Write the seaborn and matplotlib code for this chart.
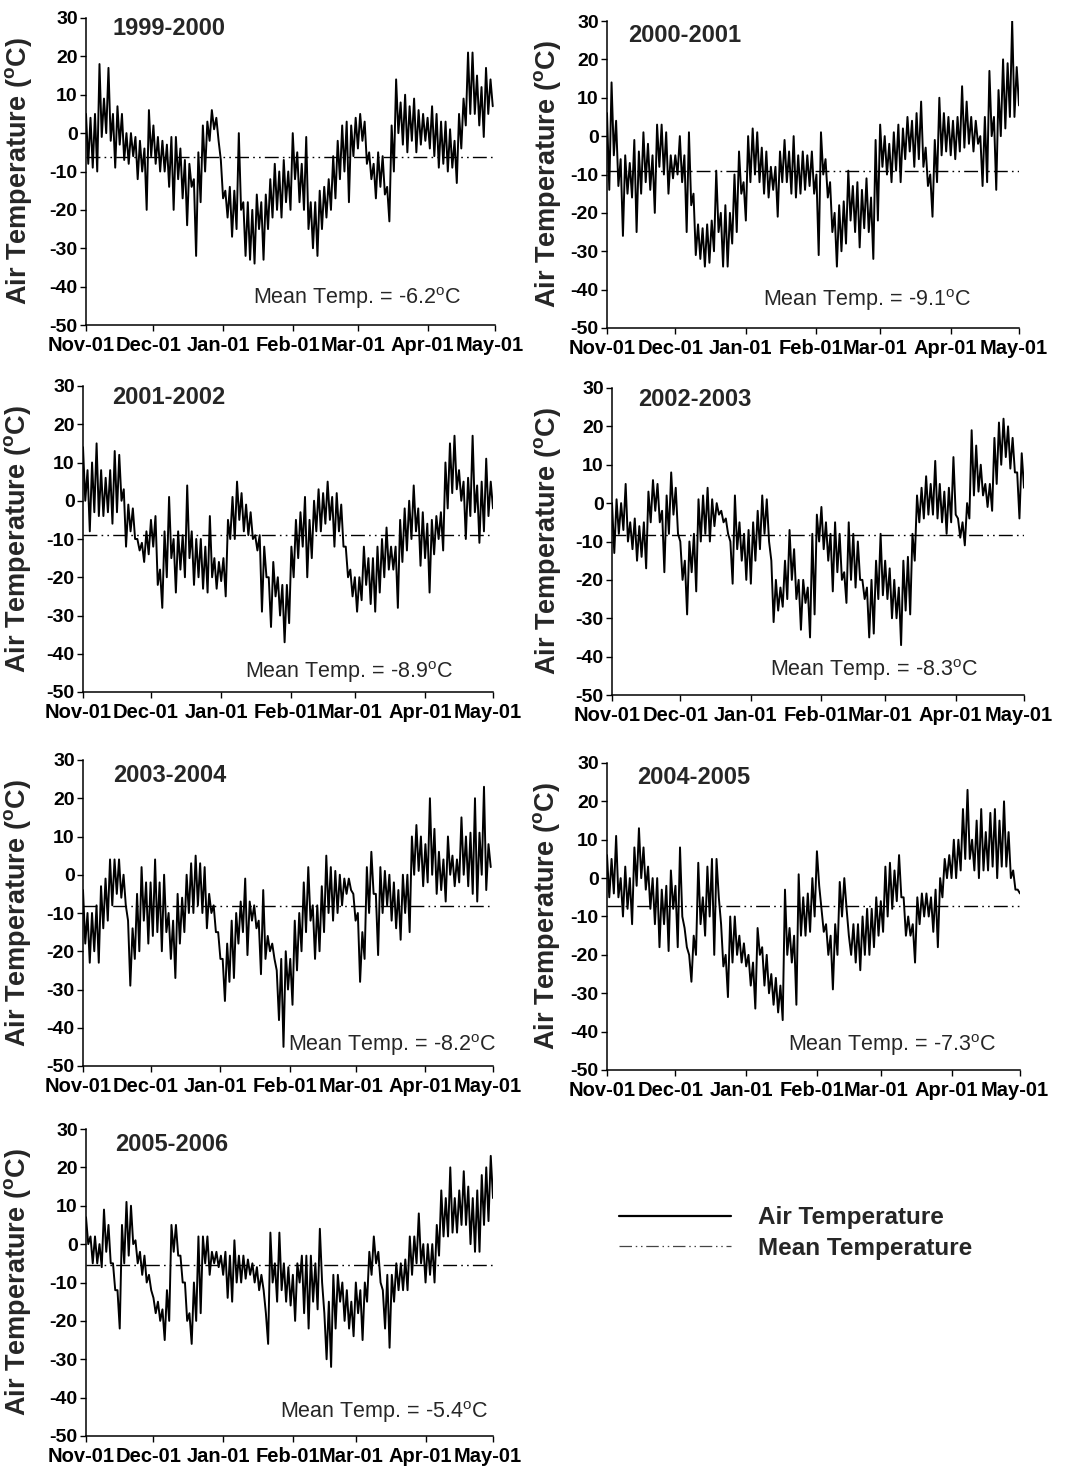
import numpy as np
import pandas as pd
import matplotlib
matplotlib.use("Agg")
import matplotlib.pyplot as plt
import matplotlib.dates as mdates
from matplotlib.lines import Line2D
from matplotlib.transforms import ScaledTranslation
import seaborn as sns

# ---------------------------------------------------------------- data
seasons = ["1999-2000", "2000-2001", "2001-2002", "2002-2003",
           "2003-2004", "2004-2005", "2005-2006"]
mean_temps = [-6.2, -9.1, -8.9, -8.3, -8.2, -7.3, -5.4]

# Air temperature (deg C): upper and lower readings for every two-day step,
# starting on 1 November of each winter.
hi_1999 = [5, 4, 5, 18, 9, 17, 5, 7, 5, 0,
           0, -1, -2, -4, 6, 2, -1, -2, -3, -1,
           -1, -4, -7, -8, -12, -5, 2, 3, 6, 4,
           -7, -15, -14, -15, 0, -18, -18, -20, -16, -18,
           -16, -12, -8, -10, -7, -10, 0, -5, -8, -1,
           -18, -18, -15, -14, -12, -6, -2, 2, 3, 2,
           4, 5, 3, -5, -8, -5, -6, -14, 2, 14,
           8, 10, 7, 9, 6, 5, 4, 7, 5, 3,
           3, 1, -2, 5, 9, 21, 21, 15, 12, 17,
           14]
lo_1999 = [-8, -9, -10, -1, 0, -2, -9, -3, -7, -8,
           -6, -12, -10, -20, -6, -8, -10, -10, -14, -20,
           -12, -17, -24, -14, -32, -18, -10, -2, 1, -2,
           -17, -22, -27, -25, -20, -32, -33, -34, -25, -33,
           -25, -22, -20, -22, -18, -20, -12, -18, -20, -25,
           -30, -32, -25, -22, -20, -17, -12, -10, -18, -6,
           -4, -2, -8, -12, -17, -14, -16, -23, -10, 0,
           -3, -5, -2, -5, -3, -2, -4, -6, -9, -8,
           -10, -9, -13, -4, 2, 5, 5, 2, -1, 5,
           7]

hi_2000 = [6, 14, 4, -6, -5, -7, -1, -4, 1, -2,
           -5, 3, 3, 1, -5, -5, 0, -5, 1, -15,
           -23, -24, -23, -22, -9, -20, -18, -20, -10, -4,
           -12, 0, 2, 1, -3, -4, -8, -8, -4, -1,
           -4, 0, -5, -4, -5, -4, -10, 1, -6, -12,
           -20, -18, -17, -9, -13, -12, -14, -11, -16, -1,
           3, 0, -2, 1, 3, 2, 5, 4, 6, 9,
           -3, -10, -1, 10, 6, 5, 4, 5, 13, 9,
           5, 4, 0, 5, 17, 5, 12, 20, 19, 30,
           18]
lo_2000 = [-14, -5, -13, -26, -15, -16, -25, -15, -12, -14,
           -20, -8, -10, -15, -11, -10, -12, -25, -18, -31,
           -32, -34, -33, -30, -25, -34, -34, -28, -25, -15,
           -22, -12, -10, -12, -15, -16, -14, -21, -12, -12,
           -15, -16, -15, -14, -13, -15, -31, -10, -16, -25,
           -34, -30, -28, -22, -25, -29, -24, -25, -32, -22,
           -8, -10, -12, -9, -12, -6, -4, -8, -6, -8,
           -13, -21, -12, -5, -4, -5, -6, -4, -3, -2,
           -4, -2, -13, -12, 0, -14, 0, 2, 5, 5,
           8]

hi_2001 = [14, 8, 10, 15, 8, 6, 8, 13, 12, 3,
           -1, -2, -10, -11, -8, -5, -4, -18, -8, 1,
           -10, -8, -9, 4, -8, -10, -10, -12, -4, -15,
           -16, -15, -5, 1, 5, 2, -1, -3, -9, -9,
           -12, -20, -16, -20, -22, -22, -12, -5, -3, 1,
           -5, 0, 3, 2, 5, 1, 2, -1, -12, -18,
           -20, -20, -12, -15, -15, -12, -10, -7, -12, -12,
           -5, -2, 0, 4, -2, -3, -6, -5, -4, -3,
           10, 15, 17, 8, 5, 6, 17, 4, 5, 11,
           5]
lo_2001 = [0, -8, -3, -4, -4, -3, -6, -3, 0, -12,
           -8, -10, -13, -16, -14, -12, -22, -28, -20, -15,
           -24, -18, -20, -15, -22, -20, -23, -24, -20, -23,
           -21, -25, -10, -10, -5, -8, -9, -10, -13, -29,
           -20, -33, -25, -30, -37, -32, -20, -15, -12, -20,
           -15, -8, -8, -6, -5, -12, -8, -12, -20, -25,
           -29, -26, -22, -27, -29, -24, -20, -18, -18, -28,
           -16, -13, -10, -8, -17, -15, -24, -14, -10, -13,
           -2, 2, 3, 0, -10, -4, -3, -11, -8, -4,
           -2]

hi_2002 = [0, 1, 0, 5, -5, -4, -6, -5, 3, 6,
           5, -2, 2, 8, 4, -10, -15, -10, -8, 1,
           2, 4, 1, 0, -2, -4, -10, 2, -5, -8,
           -7, -5, -2, 2, 1, -15, -20, -22, -15, -7,
           -12, -20, -20, -22, -8, -3, -1, -5, -8, -5,
           -8, -18, -5, -8, -10, -20, -22, -20, -15, -8,
           -15, -17, -20, -22, -15, -14, -8, 2, 4, 7,
           5, 11, 5, 3, 4, 12, -4, -5, 0, 19,
           15, 10, 5, 5, 17, 21, 22, 20, 17, 8,
           13]
lo_2002 = [-13, -8, -7, -10, -12, -15, -14, -17, -5, -2,
           -5, -18, -8, -3, -8, -20, -29, -18, -23, -10,
           -8, -10, -6, -3, -5, -8, -21, -12, -15, -20,
           -21, -15, -12, -8, -10, -31, -28, -27, -25, -20,
           -25, -33, -26, -35, -29, -10, -12, -15, -23, -18,
           -20, -26, -20, -22, -20, -25, -35, -34, -25, -24,
           -25, -30, -30, -37, -28, -29, -15, -5, -4, -3,
           -3, -4, -5, -8, -5, -3, -9, -11, -4, 2,
           3, 2, -1, -2, 5, 10, 12, 9, 8, -4,
           4]

hi_2003 = [-4, -10, -10, -8, -3, -1, 4, 4, 4, 0,
           -12, -14, -5, 2, -2, -2, 4, -2, 0, -10,
           -12, -5, -6, 0, 3, 5, 3, 2, -5, -8,
           -15, -22, -18, -12, -10, -7, -1, -7, -8, -12,
           -4, -16, -18, -25, -22, -20, -22, -12, -10, -2,
           2, -8, -8, -3, 5, 2, 1, 0, -1, -1,
           -5, -10, -15, 2, 6, -5, 2, 1, 0, -2,
           -4, 0, 0, 10, 13, 10, 8, 20, 12, 6,
           4, 10, 5, 4, 15, 10, 11, 20, 11, 23,
           8]
lo_2003 = [-18, -23, -20, -23, -14, -12, -8, -5, -6, -8,
           -29, -22, -20, -12, -18, -16, -15, -20, -15, -22,
           -27, -18, -15, -10, -10, -8, -10, -14, -10, -15,
           -22, -33, -28, -27, -18, -15, -21, -12, -14, -26,
           -22, -20, -22, -38, -45, -30, -34, -25, -20, -15,
           -12, -22, -20, -15, -10, -12, -10, -8, -5, -4,
           -12, -28, -22, -10, -5, -21, -10, -8, -12, -14,
           -17, -10, -15, 0, 1, -3, -2, 0, -5, -4,
           -7, 0, -3, -2, 0, -3, -5, -7, 0, -4,
           2]

hi_2004 = [6, 5, 11, 0, 3, 0, 8, 13, 8, 3,
           0, 0, -3, -2, 2, -2, 8, -13, -20, -15,
           4, -5, 3, 5, 5, -12, -20, -10, -10, -15,
           -17, -20, -22, -13, -18, -20, -25, -26, -28, -3,
           -13, -15, 1, -5, -4, 0, 7, -8, -12, -15,
           -12, -1, 0, -15, -12, -12, -10, -8, -8, -5,
           -6, 3, 4, 2, 6, -5, -10, -12, -5, -4,
           -4, -5, -3, 0, 5, 6, 10, 10, 18, 23,
           10, 15, 18, 12, 17, 18, 15, 20, 12, 2,
           -3]
lo_2004 = [-5, -4, -5, -10, -8, -12, -2, 0, -3, -8,
           -12, -18, -12, -19, -8, -18, -10, -18, -27, -20,
           -12, -15, -10, -20, -5, -23, -31, -22, -20, -22,
           -23, -28, -34, -20, -28, -30, -33, -35, -37, -20,
           -22, -33, -15, -15, -14, -10, -2, -14, -20, -29,
           -20, -10, -8, -20, -22, -24, -20, -20, -18, -15,
           -14, -10, -8, -6, -5, -15, -15, -22, -12, -10,
           -10, -14, -18, -5, 0, 0, 0, 2, 5, 5,
           2, 0, 2, 2, 3, 0, 3, 3, 0, -3,
           -4]

hi_2005 = [7, 2, 2, 0, 9, 5, -5, -12, 5, 11,
           10, 1, -2, -3, -8, -14, -15, -17, -12, 5,
           5, -3, -10, -18, -10, 2, 2, 2, -2, -2,
           -3, -2, -3, 1, -3, -3, -4, -5, -6, -8,
           -18, 3, -5, 3, -5, -6, -8, -5, -3, -3,
           -3, -5, 4, -18, -15, -8, -8, -10, -12, -15,
           -10, -12, -10, -2, 2, -2, -12, -8, -8, -5,
           -5, -4, 2, 2, 8, 0, 0, 0, 5, 14,
           12, 20, 12, 14, 19, 15, 12, 14, 18, 20,
           23]
lo_2005 = [0, -5, -5, -6, -2, -5, -12, -22, -5, -3,
           0, -5, -8, -10, -12, -18, -20, -25, -20, -2,
           -3, -10, -20, -26, -20, -18, -5, -8, -5, -6,
           -8, -14, -15, -10, -10, -9, -8, -10, -12, -12,
           -26, -10, -15, -12, -15, -16, -20, -10, -18, -22,
           -15, -17, -10, -30, -32, -22, -15, -20, -22, -24,
           -18, -25, -15, -8, -5, -10, -22, -27, -15, -12,
           -12, -12, -8, -5, -5, -10, -8, -10, -3, 2,
           2, 3, 3, 5, 5, 0, -2, -2, 5, 6,
           12]

highs = [hi_1999, hi_2000, hi_2001, hi_2002, hi_2003, hi_2004, hi_2005]
lows = [lo_1999, lo_2000, lo_2001, lo_2002, lo_2003, lo_2004, lo_2005]

# ---------------------------------------------------------------- style
sns.set_theme(style="ticks")
plt.rcParams["font.family"] = ["Liberation Sans", "DejaVu Sans"]
plt.rcParams.update({
    "mathtext.fontset": "custom",
    "mathtext.rm": "Liberation Sans",
    "mathtext.bf": "Liberation Sans:bold",
    "axes.unicode_minus": False,
    "axes.edgecolor": "black",
    "axes.linewidth": 1.1,
    "xtick.color": "black",
    "ytick.color": "black",
    "xtick.labelsize": 14.5,
    "ytick.labelsize": 14,
    "xtick.direction": "out",
    "ytick.direction": "out",
    "xtick.major.size": 4,
    "ytick.major.size": 4,
    "xtick.major.width": 1.0,
    "ytick.major.width": 1.0,
    "xtick.major.pad": 3.8,
    "ytick.major.pad": 2,
})

MEAN_STYLE = (0, (10, 3, 1.2, 3, 1.2, 3))

W, H = 1065, 1473
fig = plt.figure(figsize=(W / 100, H / 100), dpi=100)
fig.patch.set_facecolor("white")

# axes frames in pixels: left, right, top, bottom
frames = [(86, 495, 18, 325), (607, 1019, 21, 328),
          (83, 493, 386, 692), (612, 1024, 388, 695),
          (83, 493, 760, 1066), (607, 1020, 763, 1070),
          (86, 493, 1129, 1436)]
title_pos = [(0.066, 0.967), (0.051, 0.954), (0.070, 0.964), (0.063, 0.964),
             (0.073, 0.948), (0.073, 0.954), (0.071, 0.948)]
mean_pos = [(0.408, 0.088), (0.379, 0.091), (0.395, 0.065), (0.383, 0.081),
            (0.500, 0.069), (0.438, 0.081), (0.477, 0.078)]
ylabel_x = [-0.127, -0.107, -0.122, -0.119, -0.122, -0.109, -0.130]

for i, season in enumerate(seasons):
    l, r, t, b = frames[i]
    ax = fig.add_axes([l / W, 1 - b / H, (r - l) / W, (b - t) / H])
    ax.set_facecolor("white")

    y0 = int(season[:4])
    start = pd.Timestamp(y0, 11, 1)
    end = pd.Timestamp(y0 + 1, 5, 1)
    temps = np.column_stack([highs[i], lows[i]]).ravel()
    dates = pd.date_range(start, periods=len(temps), freq="D")
    df = pd.DataFrame({"date": dates, "temp": temps})

    sns.lineplot(data=df, x="date", y="temp", ax=ax, color="black",
                 lw=1.4, estimator=None)
    ax.axhline(mean_temps[i], color="black", lw=1.0, ls=MEAN_STYLE)

    ax.set_xlim(start, end)
    ax.set_ylim(-50, 30)
    ax.set_yticks(range(-50, 31, 10))
    ax.set_xticks(pd.date_range(start, end, freq="MS"))
    ax.xaxis.set_major_formatter(mdates.DateFormatter("%b-%d"))
    ax.set_xlabel("")
    ax.set_ylabel(r"Air Temperature ($^{\mathbf{o}}$C)", fontsize=19.5,
                  fontweight="bold")
    ax.yaxis.set_label_coords(ylabel_x[i], 0.5)
    sns.despine(ax=ax)
    ax.grid(False)

    shift = ScaledTranslation(-5 / 100, 0, fig.dpi_scale_trans)
    for lbl in ax.get_xticklabels():
        lbl.set_fontweight("bold")
        lbl.set_fontsize(14.5)
        lbl.set_transform(lbl.get_transform() + shift)
    for lbl in ax.get_yticklabels():
        lbl.set_fontweight("bold")
        lbl.set_fontsize(14)

    ax.text(title_pos[i][0], title_pos[i][1], season, transform=ax.transAxes,
            fontsize=17, fontweight="bold", ha="left", va="center")
    ax.text(mean_pos[i][0], mean_pos[i][1],
            f"Mean Temp. = {mean_temps[i]:.1f}" + r"$^{\mathrm{o}}$C",
            transform=ax.transAxes, fontsize=15.5, ha="left", va="center")

handles = [Line2D([], [], color="black", lw=1.6),
           Line2D([], [], color="#444444", lw=0.9, ls=MEAN_STYLE)]
fig.legend(handles, ["Air Temperature", "Mean Temperature"],
           loc="center left", bbox_to_anchor=(619 / W, 1 - 1233 / H),
           frameon=False, prop={"weight": "bold", "size": 17.5},
           handlelength=4.6, handletextpad=1.1, labelspacing=0.3,
           borderpad=0, borderaxespad=0)

fig.savefig("out.png", dpi=100, facecolor="white")
